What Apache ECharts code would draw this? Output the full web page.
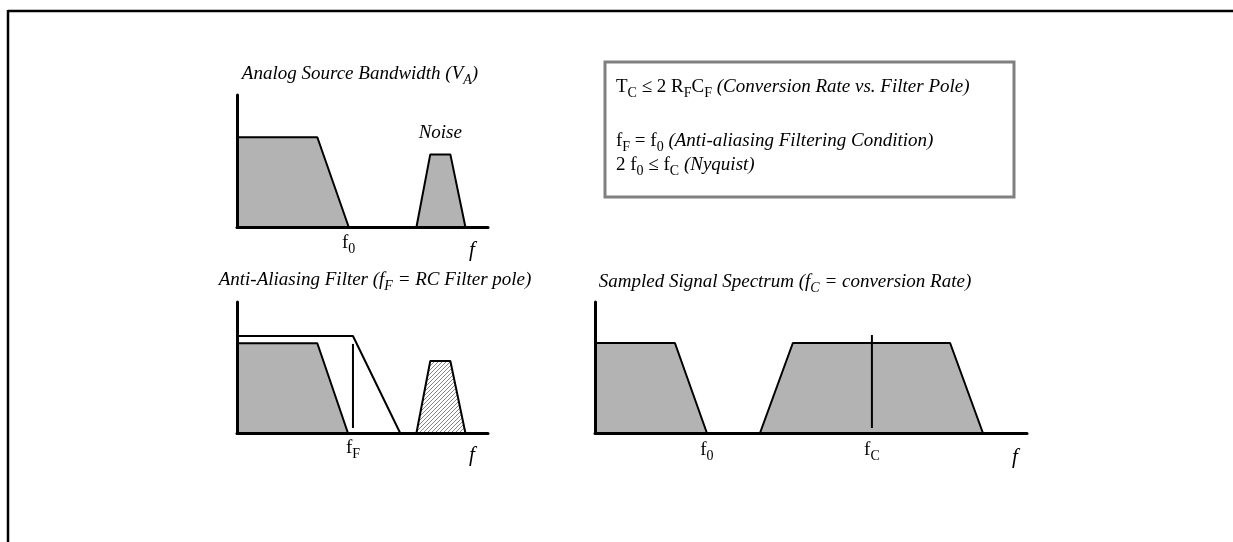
<!DOCTYPE html>
<html><head><meta charset="utf-8">
<script src="https://cdn.jsdelivr.net/npm/echarts@6/dist/echarts.min.js"></script>
<style>html,body{margin:0;padding:0;background:#fff}#c{width:1233px;height:542px}</style>
</head><body><div id="c"></div>
<script>
// ---- Data (arbitrary frequency / amplitude units, axis range 0..10) ----
// Panel A: Analog Source Bandwidth
const srcSignal = [[0, 6.8], [3.2, 6.8], [4.45, 0]];
const srcNoise = [[7.15, 0], [7.7, 5.5], [8.5, 5.5], [9.1, 0]];
// Panel B: Anti-Aliasing Filter
const aaSignal = [[0, 6.85], [3.2, 6.85], [4.42, 0]];
const aaFilter = [[0, 7.4], [4.62, 7.4], [6.5, 0]];
const aaPole = [[4.62, 0.38], [4.62, 6.8]];
const aaNoise = [[7.15, 0], [7.7, 5.5], [8.5, 5.5], [9.1, 0]];
// Panel C: Sampled Signal Spectrum
const smpBase = [[0, 6.87], [1.85, 6.87], [2.59, 0]];
const smpImage = [[3.82, 0], [4.58, 6.87], [8.22, 6.87], [8.98, 0]];
const smpRate = [[6.41, 0.38], [6.41, 7.48]];
// Axis marker labels: [x, y, text]
const srcLabels = [[4.45, 0, '{m|f}{s|0}'], [9.36, 0, '{fi|f}']];
const srcNoiseLabel = [[8.1, 5.5, '{i|Noise}']];
const aaLabels = [[4.62, 0, '{m|f}{s|F}'], [9.36, 0, '{fi|f}']];
const smpLabels = [[2.59, 0, '{m|f}{s|0}'], [6.41, 0, '{m|f}{s|C}'], [9.72, 0, '{fi|f}']];

const SERIF = "'Liberation Serif','Times New Roman',serif";
const GRAY = '#b3b3b3';

const rich = {
  m: { fontFamily: SERIF, fontSize: 19, lineHeight: 26, color: '#000' },
  s: { fontFamily: SERIF, fontSize: 14, lineHeight: 13, verticalAlign: 'bottom', color: '#000' },
  i: { fontFamily: SERIF, fontSize: 19, fontStyle: 'italic', lineHeight: 26, color: '#000' },
  is: { fontFamily: SERIF, fontSize: 14, fontStyle: 'italic', lineHeight: 13, verticalAlign: 'bottom', color: '#000' },
  fi: { fontFamily: SERIF, fontSize: 21, fontStyle: 'italic', lineHeight: 26, color: '#000' }
};

// hatch pattern
const hatch = document.createElement('canvas');
hatch.width = 4; hatch.height = 4;
(function () {
  const c = hatch.getContext('2d');
  c.fillStyle = '#ffffff'; c.fillRect(0, 0, 4, 4);
  c.fillStyle = '#858585';
  for (let i = 0; i < 4; i++) c.fillRect(i, 3 - i, 1, 1);
})();

const grids = [
  { left: 237, top: 95, width: 251, height: 132 },
  { left: 237, top: 302, width: 251, height: 131 },
  { left: 595, top: 302, width: 432, height: 131 }
];
function axis(i) {
  return {
    type: 'value', gridIndex: i, min: 0, max: 10, z: 10,
    axisLine: { show: true, onZero: false, lineStyle: { color: '#000', width: 3 } },
    axisTick: { show: false }, axisLabel: { show: false }, splitLine: { show: false }
  };
}
function shape(g, data, fill, z) {
  return {
    type: 'line', xAxisIndex: g, yAxisIndex: g, data: data, symbol: 'none', silent: true,
    animation: false, z: z || 2,
    lineStyle: { color: '#000', width: 2 },
    areaStyle: fill ? { color: fill, opacity: 1 } : undefined
  };
}
function labels(g, arr, off) {
  return {
    type: 'scatter', xAxisIndex: g, yAxisIndex: g, symbolSize: 0, clip: false, silent: true,
    animation: false, z: 5,
    itemStyle: { color: '#000' },
    data: arr.map(function (d) {
      return { value: [d[0], d[1]], label: { formatter: d[2], offset: d[2].indexOf('fi|') >= 0 ? [0, off + 7] : [0, off] } };
    }),
    label: { show: true, position: 'inside', color: '#000', opacity: 1, textBorderWidth: 0, rich: rich }
  };
}

const chart = echarts.init(document.getElementById('c'), null, { renderer: 'canvas' });
chart.setOption({
  backgroundColor: '#fff',
  animation: false,
  textStyle: { fontFamily: SERIF },
  grid: grids,
  xAxis: [axis(0), axis(1), axis(2)],
  yAxis: [axis(0), axis(1), axis(2)],
  series: [
    shape(0, srcSignal, GRAY),
    shape(0, srcNoise, GRAY),
    labels(0, srcLabels, 16),
    labels(0, srcNoiseLabel, -21),
    shape(1, aaFilter, null, 1),
    shape(1, aaSignal, GRAY),
    shape(1, aaPole, null, 3),
    { ...shape(1, aaNoise, null), areaStyle: { color: { image: hatch, repeat: 'repeat' }, opacity: 1 } },
    labels(1, aaLabels, 15),
    shape(2, smpBase, GRAY),
    shape(2, smpImage, GRAY),
    shape(2, smpRate, null, 3),
    labels(2, smpLabels, 17)
  ],
  graphic: [
    { type: 'line', shape: { x1: 8, y1: 11, x2: 1233, y2: 11 }, style: { stroke: '#000', lineWidth: 2.5 } },
    { type: 'line', shape: { x1: 8, y1: 10, x2: 8, y2: 542 }, style: { stroke: '#000', lineWidth: 2.5 } },
    { type: 'rect', shape: { x: 605, y: 62, width: 409, height: 135 }, style: { fill: 'none', stroke: '#808080', lineWidth: 3 } },
    { type: 'text', x: 360, y: 74, style: { text: '{i|Analog Source Bandwidth (V}{is|A}{i|)}', rich: rich, align: 'center', verticalAlign: 'middle' } },
    { type: 'text', x: 375, y: 280, style: { text: '{i|Anti-Aliasing Filter (f}{is|F}{i| = RC Filter pole)}', rich: rich, align: 'center', verticalAlign: 'middle' } },
    { type: 'text', x: 785, y: 282, style: { text: '{i|Sampled Signal Spectrum (f}{is|C}{i| = conversion Rate)}', rich: rich, align: 'center', verticalAlign: 'middle' } },
    { type: 'text', x: 616, y: 87, style: { text: '{m|T}{s|C}{m| ≤ 2 R}{s|F}{m|C}{s|F}{i| (Conversion Rate vs. Filter Pole)}', rich: rich, align: 'left', verticalAlign: 'middle' } },
    { type: 'text', x: 616, y: 141, style: { text: '{m|f}{s|F}{m| = f}{s|0}{i| (Anti-aliasing Filtering Condition)}', rich: rich, align: 'left', verticalAlign: 'middle' } },
    { type: 'text', x: 616, y: 165, style: { text: '{m|2 f}{s|0}{m| ≤ f}{s|C}{i| (Nyquist)}', rich: rich, align: 'left', verticalAlign: 'middle' } }
  ]
});
</script>
</body></html>
